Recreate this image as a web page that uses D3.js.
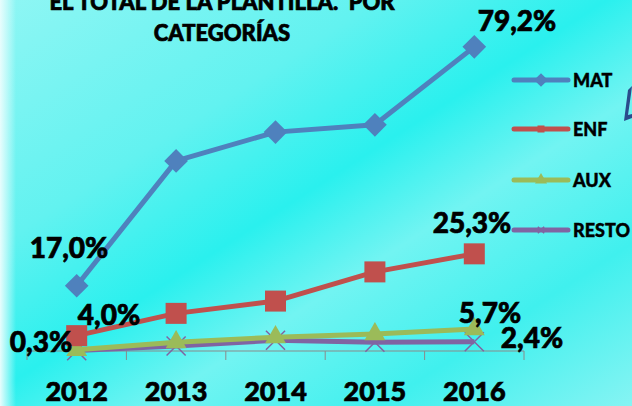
<!DOCTYPE html>
<html>
<head>
<meta charset="utf-8">
<script src="https://cdn.jsdelivr.net/npm/d3@7"></script>
<style>
  body { margin: 0; padding: 0; overflow: hidden; }
  svg { display: block; font-family: Lato, "Open Sans", sans-serif; }
  text { white-space: pre; }
</style>
</head>
<body>
<div id="chart"></div>
<script>
// chart values
const years = ["2012", "2013", "2014", "2015", "2016"];
const seriesNames = ["MAT", "ENF", "AUX", "RESTO"];
const matValues = [17.0, 49.5, 57.0, 58.9, 79.2];
const enfValues = [4.0, 9.8, 13.0, 20.6, 25.3];
const auxValues = [0.3, 2.3, 3.6, 4.4, 5.7];
const restoValues = [0.1, 1.3, 2.8, 2.3, 2.4];
const titleLines = ["EL TOTAL DE LA PLANTILLA.  POR", "CATEGORÍAS"];

const series = [
    {name: seriesNames[0], values: matValues, color: "#4f81bd", marker: "diamond"},
    {name: seriesNames[1], values: enfValues, color: "#c0504d", marker: "square"},
    {name: seriesNames[2], values: auxValues, color: "#9bbb59", marker: "triangle"},
    {name: seriesNames[3], values: restoValues, color: "#8064a2", marker: "x"}
];

const width = 632, height = 406;
const fmt = v => v.toFixed(1).replace(".", ",") + "%";

const svg = d3.select("#chart").append("svg")
    .attr("width", width)
    .attr("height", height);

// background
const defs = svg.append("defs");
const bg = defs.append("linearGradient").attr("id", "bg")
    .attr("x1", "0").attr("y1", "0").attr("x2", "1").attr("y2", "1");
bg.append("stop").attr("offset", "0%").attr("stop-color", "#8ff6f4");
bg.append("stop").attr("offset", "30%").attr("stop-color", "#62f2f0");
bg.append("stop").attr("offset", "48%").attr("stop-color", "#2af0ee");
bg.append("stop").attr("offset", "62%").attr("stop-color", "#72f4f2");
bg.append("stop").attr("offset", "80%").attr("stop-color", "#40f0ee");
bg.append("stop").attr("offset", "100%").attr("stop-color", "#86f4f3");

const edge = defs.append("linearGradient").attr("id", "edge")
    .attr("x1", "0").attr("y1", "0").attr("x2", "1").attr("y2", "0");
edge.append("stop").attr("offset", "0%").attr("stop-color", "#e8fdfd").attr("stop-opacity", 1);
edge.append("stop").attr("offset", "100%").attr("stop-color", "#e8fdfd").attr("stop-opacity", 0);

svg.append("rect").attr("width", width).attr("height", height).attr("fill", "url(#bg)");
svg.append("rect").attr("width", 16).attr("height", height).attr("fill", "url(#edge)");

// dark sliver on the right edge
svg.append("path")
    .attr("d", "M632,86 L628,90 L624,121 L632,118 L632,114 L628,115 L631,94 Z")
    .attr("fill", "#2a4c8c");

// scales
const x = d3.scalePoint().domain(years).range([27, 524]).padding(0.5);
const y = d3.scaleLinear().domain([0, 90]).range([351, 5.4]);
const step = x.step();

// axis
const axisY = y(0);
svg.append("line")
    .attr("x1", x.range()[0]).attr("x2", x.range()[1])
    .attr("y1", axisY).attr("y2", axisY)
    .attr("stroke", "#8a8a8a").attr("stroke-width", 1);

const edges = d3.range(years.length + 1).map(i => x.range()[0] + i * step);
svg.append("g").selectAll("line")
    .data(edges)
    .enter().append("line")
    .attr("x1", d => d).attr("x2", d => d)
    .attr("y1", axisY).attr("y2", axisY + 9)
    .attr("stroke", "#8a8a8a").attr("stroke-width", 1);

function boldText(sel, size) {
    return sel.style("font-size", size + "px")
        .style("font-weight", 900)
        .attr("fill", "#000")
        .attr("stroke", "#000")
        .attr("stroke-width", size > 20 ? 0.7 : 0.4);
}

svg.append("g").selectAll("text")
    .data(years)
    .enter().append("text")
    .attr("x", d => x(d))
    .attr("y", 401)
    .attr("text-anchor", "middle")
    .call(boldText, 27)
    .text(d => d);

// title (the first line is cut by the top edge, as in the original)
svg.append("g").selectAll("text")
    .data(titleLines)
    .enter().append("text")
    .attr("x", 222)
    .attr("y", (d, i) => 10 + i * 31)
    .attr("text-anchor", "middle")
    .call(boldText, 22)
    .text(d => d);

// lines
const line = d3.line()
    .x((d, i) => x(years[i]))
    .y(d => y(d));

function drawMarker(g, type, color, size) {
    if (type === "diamond") {
        g.append("path").attr("d", d3.symbol().type(d3.symbolDiamond2).size(size * 1.7)())
            .attr("fill", color);
    } else if (type === "square") {
        g.append("rect").attr("x", -size / 20).attr("y", -size / 20)
            .attr("width", size / 10).attr("height", size / 10).attr("fill", color);
    } else if (type === "triangle") {
        g.append("path").attr("d", d3.symbol().type(d3.symbolTriangle).size(size * 0.9)())
            .attr("fill", color);
    } else {
        let r = size / 22;
        g.append("path").attr("d", `M${-r},${-r}L${r},${r}M${-r},${r}L${r},${-r}`)
            .attr("stroke", color).attr("stroke-width", 1.5).attr("fill", "none");
    }
}

series.slice().reverse().forEach(s => {
    let g = svg.append("g");
    g.append("path")
        .datum(s.values)
        .attr("d", line)
        .attr("fill", "none")
        .attr("stroke", s.color)
        .attr("stroke-width", 5)
        .attr("stroke-linejoin", "round");
    g.selectAll(".pt")
        .data(s.values)
        .enter().append("g")
        .attr("class", "pt")
        .attr("transform", (d, i) => "translate(" + x(years[i]) + "," + y(d) + ")")
        .each(function () {
            drawMarker(d3.select(this), s.marker, s.color, 210);
        });
});

// data labels (first and last point)
const labels = [
    {v: matValues[0], cx: 69, cy: 258},
    {v: matValues[4], cx: 517, cy: 31},
    {v: enfValues[0], cx: 109, cy: 325},
    {v: enfValues[4], cx: 472, cy: 233},
    {v: auxValues[0], cx: 41, cy: 352},
    {v: auxValues[4], cx: 490, cy: 323},
    {v: restoValues[4], cx: 532, cy: 348}
];
svg.append("g").selectAll("text")
    .data(labels)
    .enter().append("text")
    .attr("x", d => d.cx)
    .attr("y", d => d.cy)
    .attr("text-anchor", "middle")
    .call(boldText, 28)
    .text(d => fmt(d.v));

// legend
const legend = svg.append("g").selectAll("g")
    .data(series)
    .enter().append("g")
    .attr("transform", (d, i) => "translate(514," + [80, 129, 180, 230][i] + ")");
legend.append("line")
    .attr("x1", 0).attr("x2", 54)
    .attr("stroke", d => d.color)
    .attr("stroke-width", 5)
    .attr("stroke-linecap", "round");
legend.each(function (d) {
    let m = d3.select(this).append("g").attr("transform", "translate(27,0)");
    drawMarker(m, d.marker, d.color, 70);
});
legend.append("text")
    .attr("x", 59)
    .attr("y", 7)
    .call(boldText, 18)
    .text(d => d.name);
</script>
</body>
</html>
